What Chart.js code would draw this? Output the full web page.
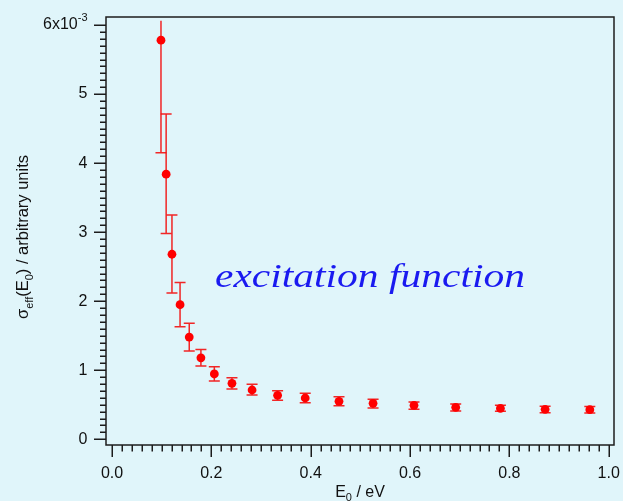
<!DOCTYPE html>
<html>
<head>
<meta charset="utf-8">
<script src="https://cdn.jsdelivr.net/npm/chart.js@4/dist/chart.umd.min.js"></script>
<style>
  html, body { margin: 0; padding: 0; background: #E0F5FA; }
  canvas { display: block; }
</style>
</head>
<body>
<canvas id="c" width="623" height="501"></canvas>
<script>
// ---- data (sigma in units of 1e-3, arbitrary units) ----
const energy   = [0.0986, 0.109, 0.1207, 0.137, 0.1555, 0.179, 0.206, 0.2415, 0.282, 0.3334, 0.389, 0.457, 0.5256, 0.608, 0.692, 0.782, 0.872, 0.962];
const sigma    = [5.78, 3.84, 2.68, 1.95, 1.48, 1.18, 0.946, 0.811, 0.714, 0.637, 0.598, 0.550, 0.521, 0.492, 0.463, 0.449, 0.434, 0.429];
const sigmaHi  = [6.06, 4.71, 3.25, 2.27, 1.68, 1.30, 1.05, 0.892, 0.797, 0.704, 0.666, 0.617, 0.579, 0.540, 0.511, 0.492, 0.478, 0.475];
const sigmaLo  = [4.15, 2.98, 2.12, 1.63, 1.28, 1.06, 0.844, 0.728, 0.642, 0.565, 0.530, 0.487, 0.453, 0.434, 0.410, 0.405, 0.385, 0.380];
const xTickValues = [0.0, 0.2, 0.4, 0.6, 0.8, 1.0];
const xTickLabels = ['0.0', '0.2', '0.4', '0.6', '0.8', '1.0'];
const yTickValues = [0, 1, 2, 3, 4, 5, 6];
const yTickLabels = ['0', '1', '2', '3', '4', '5', '6x10'];
const annotationText = 'excitation function';

const points = energy.map((e, i) => ({ x: e, y: sigma[i] }));

const INK = '#1c1c1c';
const RED = '#ff0000';
const BAR = 'rgba(242,20,20,0.92)';

function drawPieces(ctx, pieces, baseFont, cx, cy) {
  let total = 0;
  pieces.forEach(p => { ctx.font = p.size + 'px ' + baseFont; p.w = ctx.measureText(p.t).width; total += p.w; });
  let x = cx - total / 2;
  ctx.textAlign = 'left';
  ctx.textBaseline = 'alphabetic';
  pieces.forEach(p => { ctx.font = p.size + 'px ' + baseFont; ctx.fillText(p.t, x, cy + p.dy); x += p.w; });
}

const decor = {
  id: 'decor',
  beforeDraw(chart) {
    const ctx = chart.ctx;
    ctx.save();
    ctx.fillStyle = '#E0F5FA';
    ctx.fillRect(0, 0, chart.width, chart.height);
    ctx.restore();
  },
  beforeDatasetsDraw(chart) {
    const ctx = chart.ctx, xs = chart.scales.x, ys = chart.scales.y;
    const yMaxTick = yTickValues[yTickValues.length - 1];
    ctx.save();
    ctx.strokeStyle = BAR;
    ctx.lineWidth = 1.5;
    energy.forEach((e, i) => {
      const px = xs.getPixelForValue(e);
      const pt = ys.getPixelForValue(sigmaHi[i]);
      const pb = ys.getPixelForValue(sigmaLo[i]);
      ctx.beginPath();
      ctx.moveTo(px, pt); ctx.lineTo(px, pb);
      if (sigmaHi[i] <= yMaxTick) { ctx.moveTo(px - 5.5, pt); ctx.lineTo(px + 5.5, pt); }
      ctx.moveTo(px - 5.5, pb); ctx.lineTo(px + 5.5, pb);
      ctx.stroke();
    });
    ctx.restore();
  },
  afterDraw(chart) {
    const ctx = chart.ctx, xs = chart.scales.x, ys = chart.scales.y;
    const a = chart.chartArea;
    ctx.save();
    ctx.strokeStyle = INK;
    ctx.lineWidth = 1.5;
    ctx.strokeRect(a.left, a.top, a.right - a.left, a.bottom - a.top);

    ctx.beginPath();
    for (let k = 0; k <= 60; k++) {
      const py = Math.round(ys.getPixelForValue(k / 10)) + 0.25;
      const len = (k % 10 === 0) ? 12 : 6;
      ctx.moveTo(a.left, py); ctx.lineTo(a.left - len, py);
    }
    for (let k = 0; k <= 50; k++) {
      const px = Math.round(xs.getPixelForValue(k / 50)) + 0.25;
      const len = (k % 10 === 0) ? 12 : 6.5;
      ctx.moveTo(px, a.bottom); ctx.lineTo(px, a.bottom + len);
    }
    ctx.stroke();

    const sans = '"Liberation Sans", Arial, sans-serif';
    ctx.fillStyle = '#111';
    ctx.font = '16px ' + sans;
    ctx.textAlign = 'center';
    ctx.textBaseline = 'middle';
    xTickValues.forEach((v, i) => {
      ctx.fillText(xTickLabels[i], xs.getPixelForValue(v), a.bottom + 29);
    });
    ctx.textAlign = 'right';
    yTickValues.forEach((v, i) => {
      const py = ys.getPixelForValue(v);
      if (i === yTickValues.length - 1) {
        ctx.font = '11px ' + sans;
        const sw = ctx.measureText('-3').width;
        ctx.fillText('-3', a.left - 18.5, py - 7);
        ctx.font = '16px ' + sans;
        ctx.fillText(yTickLabels[i], a.left - 18.5 - sw, py);
      } else {
        ctx.fillText(yTickLabels[i], a.left - 18.5, py);
      }
    });

    drawPieces(ctx, [
      { t: 'E', size: 16, dy: 0 },
      { t: '0', size: 11, dy: 4 },
      { t: ' / eV', size: 16, dy: 0 }
    ], sans, (a.left + a.right) / 2, 497);

    ctx.save();
    ctx.translate(28, 237);
    ctx.rotate(-Math.PI / 2);
    drawPieces(ctx, [
      { t: 'σ', size: 16.5, dy: 0 },
      { t: 'eff', size: 11, dy: 4.5 },
      { t: '(E', size: 16.5, dy: 0 },
      { t: '0', size: 11, dy: 4.5 },
      { t: ') / arbitrary units', size: 16.5, dy: 0 }
    ], sans, 0, 0);
    ctx.restore();

    ctx.fillStyle = '#1a1af0';
    ctx.font = 'italic 34px "Liberation Serif", "Times New Roman", serif';
    ctx.textAlign = 'left';
    ctx.textBaseline = 'alphabetic';
    const w = ctx.measureText(annotationText).width;
    ctx.save();
    ctx.translate(215, 287);
    ctx.scale(310 / w, 1);
    ctx.fillText(annotationText, 0, 0);
    ctx.restore();

    ctx.restore();
  }
};

new Chart(document.getElementById('c').getContext('2d'), {
  type: 'scatter',
  data: {
    datasets: [{
      data: points,
      backgroundColor: RED,
      borderColor: RED,
      borderWidth: 0,
      pointRadius: 4.4,
      pointHoverRadius: 4.4
    }]
  },
  options: {
    responsive: false,
    animation: false,
    devicePixelRatio: 1,
    layout: { padding: { left: 106, top: 17, right: 9, bottom: 56 } },
    plugins: { legend: { display: false }, tooltip: { enabled: false } },
    scales: {
      x: { type: 'linear', min: -0.0121, max: 1.0107, display: false },
      y: { type: 'linear', min: -0.0826, max: 6.116, display: false }
    }
  },
  plugins: [decor]
});
</script>
</body>
</html>
